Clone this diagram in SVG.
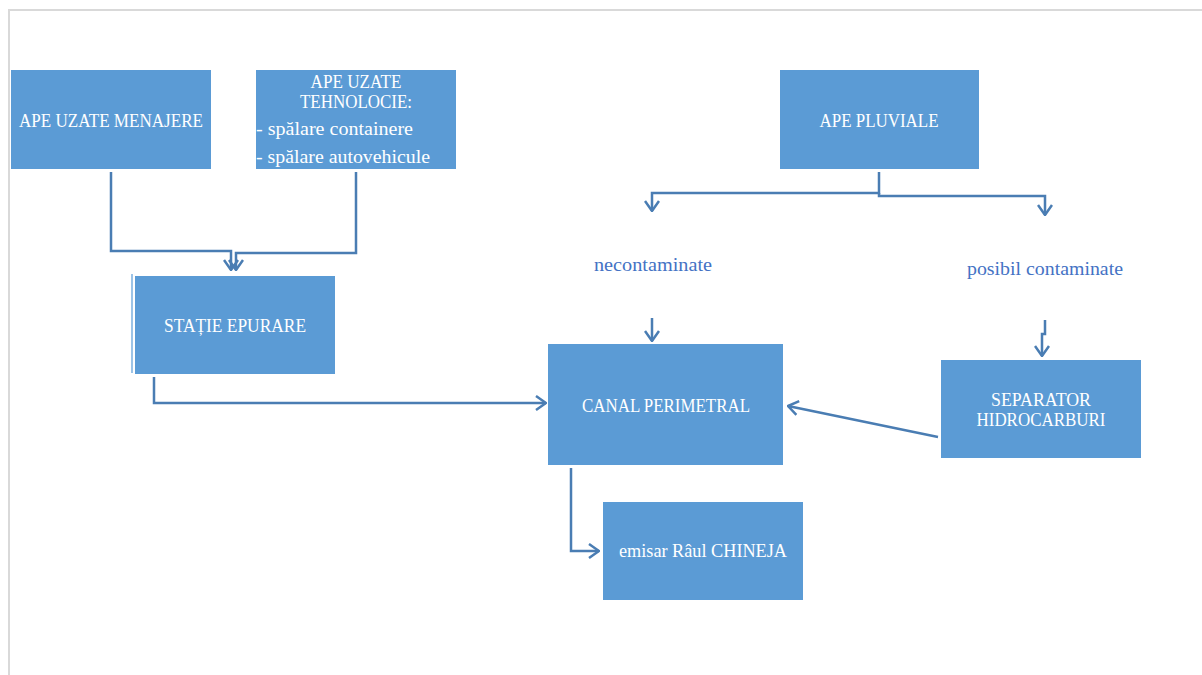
<svg xmlns="http://www.w3.org/2000/svg" width="1202" height="675" viewBox="0 0 1202 675">
  <style>
    .box { fill: #5b9bd5; }
    .lbl { font-family: "Liberation Serif", "DejaVu Serif", serif; font-size: 19px; fill: #ffffff; text-anchor: middle; }
    .lbl-l { font-family: "Liberation Serif", "DejaVu Serif", serif; font-size: 19px; fill: #ffffff; }
    .note { font-family: "Liberation Serif", "DejaVu Serif", serif; font-size: 19px; fill: #4472c4; text-anchor: middle; }
    .wire { fill: none; stroke: #4a7db3; stroke-width: 2.5; }
    .page { fill: none; stroke: #d9d9d9; stroke-width: 2; }
  </style>
  <defs>
    <marker id="open" viewBox="0 0 12 16" refX="11" refY="8" markerWidth="12" markerHeight="16" markerUnits="userSpaceOnUse" orient="auto">
      <path d="M1,1 L11,8 L1,15" fill="none" stroke="#4a7db3" stroke-width="2.5"/>
    </marker>
  </defs>

  <rect width="1202" height="675" fill="#ffffff"/>
  <!-- page edge -->
  <path class="page" d="M9,675 V10 H1202"/>

  <g id="connectors">
    <path class="wire" d="M111,172 V251 H231 V270" marker-end="url(#open)"/>
    <path class="wire" d="M356,172 V253 H236 V270" marker-end="url(#open)"/>
    <path class="wire" d="M154,377 V403 H546" marker-end="url(#open)"/>
    <path class="wire" d="M879,172 V193 H652 V211" marker-end="url(#open)"/>
    <path class="wire" d="M879,193 V196 H1045 V215" marker-end="url(#open)"/>
    <path class="wire" d="M652,318 V341" marker-end="url(#open)"/>
    <path class="wire" d="M1045,320 V334 H1042 V356" marker-end="url(#open)"/>
    <path class="wire" d="M938,437 L788,406" marker-end="url(#open)"/>
    <path class="wire" d="M571,468 V551 H599" marker-end="url(#open)"/>
  </g>

  <g id="ape-uzate-menajere">
    <rect class="box" x="11" y="70" width="200" height="99"/>
    <text class="lbl" x="111" y="127" textLength="184" lengthAdjust="spacingAndGlyphs">APE UZATE MENAJERE</text>
  </g>

  <g id="ape-uzate-tehnolocie">
    <rect class="box" x="256" y="70" width="200" height="99"/>
    <text class="lbl" x="356" y="88" textLength="91" lengthAdjust="spacingAndGlyphs">APE UZATE</text>
    <text class="lbl" x="356" y="108" textLength="112" lengthAdjust="spacingAndGlyphs">TEHNOLOCIE:</text>
    <text class="lbl-l" x="256" y="135" textLength="157" lengthAdjust="spacingAndGlyphs">- spălare containere</text>
    <text class="lbl-l" x="256" y="163" textLength="174" lengthAdjust="spacingAndGlyphs">- spălare autovehicule</text>
  </g>

  <g id="statie-epurare">
    <line x1="132" y1="274" x2="132" y2="373" stroke="#5b9bd5" stroke-width="1.2"/>
    <rect class="box" x="135" y="276" width="200" height="98"/>
    <text class="lbl" x="235" y="332" textLength="142" lengthAdjust="spacingAndGlyphs">STAȚIE EPURARE</text>
  </g>

  <g id="ape-pluviale">
    <rect class="box" x="780" y="70" width="199" height="99"/>
    <text class="lbl" x="879" y="127" textLength="119" lengthAdjust="spacingAndGlyphs">APE PLUVIALE</text>
  </g>

  <g id="necontaminate">
    <text class="note" x="653" y="271" textLength="118" lengthAdjust="spacingAndGlyphs">necontaminate</text>
  </g>

  <g id="posibil-contaminate">
    <text class="note" x="1045" y="275" textLength="156" lengthAdjust="spacingAndGlyphs">posibil contaminate</text>
  </g>

  <g id="canal-perimetral">
    <rect class="box" x="548" y="344" width="235" height="121"/>
    <text class="lbl" x="666" y="412" textLength="168" lengthAdjust="spacingAndGlyphs">CANAL PERIMETRAL</text>
  </g>

  <g id="separator-hidrocarburi">
    <rect class="box" x="941" y="360" width="200" height="98"/>
    <text class="lbl" x="1041" y="406" textLength="100" lengthAdjust="spacingAndGlyphs">SEPARATOR</text>
    <text class="lbl" x="1041" y="426" textLength="129" lengthAdjust="spacingAndGlyphs">HIDROCARBURI</text>
  </g>

  <g id="emisar">
    <rect class="box" x="603" y="502" width="200" height="98"/>
    <text class="lbl" x="703" y="557" textLength="168" lengthAdjust="spacingAndGlyphs">emisar Râul CHINEJA</text>
  </g>
</svg>
